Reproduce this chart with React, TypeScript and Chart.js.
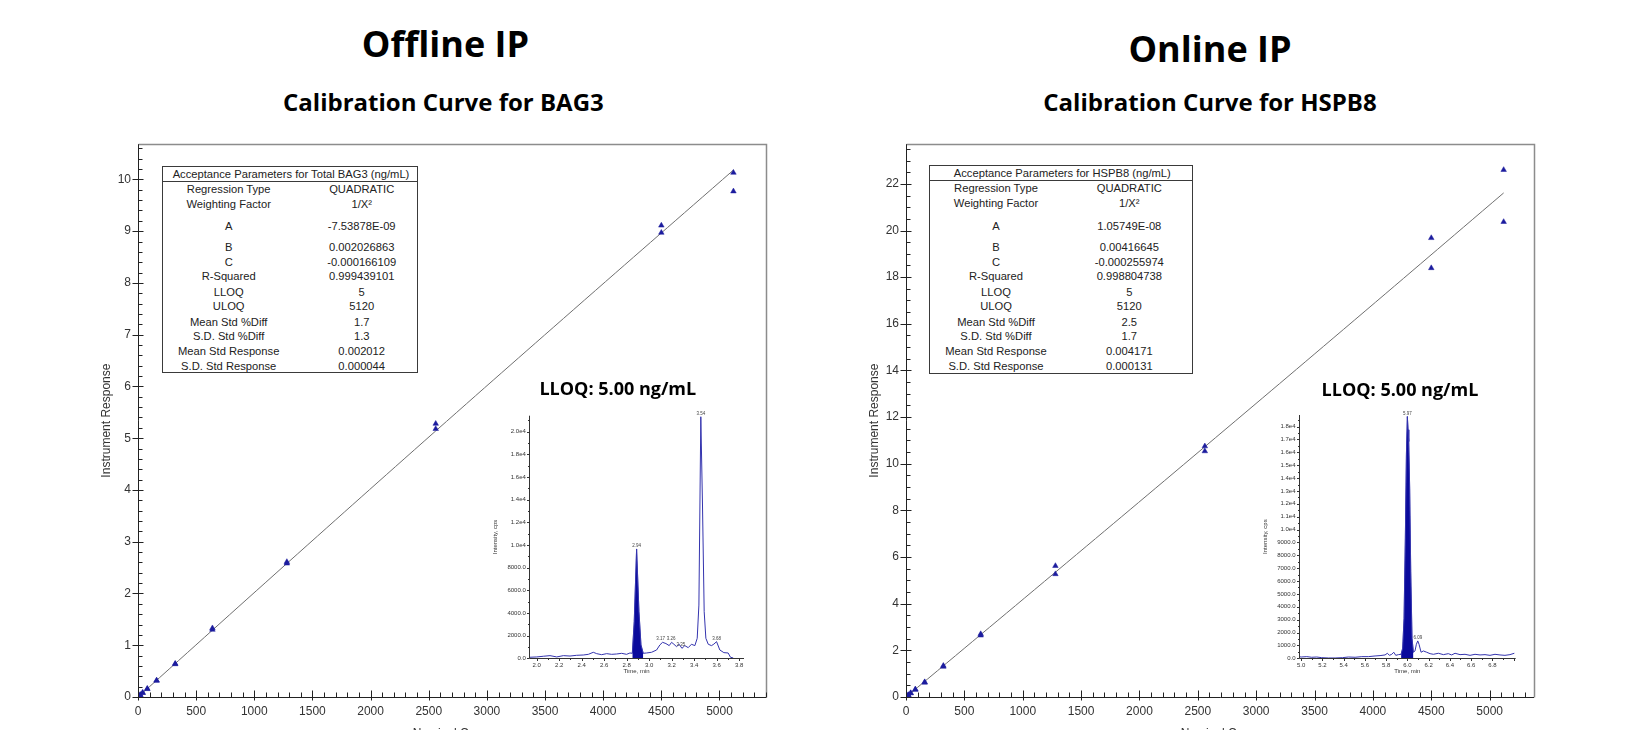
import React, { useEffect, useRef } from 'react';
import { Chart, registerables } from 'chart.js';

Chart.register(...registerables);

const FONT = "'Liberation Sans', Arial, Helvetica, sans-serif";
const TITLE_FONT = "'Open Sans', 'DejaVu Sans', sans-serif";

// ---------------- Calibration data ----------------
const nominalConc = [5, 5, 10, 10, 20, 20, 40, 40, 80, 80, 160, 160, 320, 320, 640, 640, 1280, 1280, 2560, 2560, 4500, 4500, 5120, 5120];
const bag3Response = [0.01, 0.011, 0.02, 0.021, 0.04, 0.042, 0.08, 0.083, 0.16, 0.155, 0.32, 0.315, 0.645, 0.635, 1.33, 1.3, 2.61, 2.58, 5.28, 5.18, 9.11, 8.97, 10.13, 9.77];
const hspb8Response = [0.02, 0.021, 0.04, 0.042, 0.085, 0.083, 0.17, 0.165, 0.33, 0.31, 0.64, 0.62, 1.34, 1.3, 2.7, 2.64, 5.62, 5.27, 10.75, 10.54, 19.68, 18.39, 22.6, 20.37];
const fitConc = [5, 1280, 2560, 3840, 5120];
const bag3FitResponse = [0.01, 2.58, 5.14, 7.67, 10.18];
const hspb8FitResponse = [0.02, 5.35, 10.73, 16.15, 21.61];

// tick values
const concTicks = [0, 500, 1000, 1500, 2000, 2500, 3000, 3500, 4000, 4500, 5000];
const bag3RespTicks = [0, 1, 2, 3, 4, 5, 6, 7, 8, 9, 10];
const hspb8RespTicks = [0, 2, 4, 6, 8, 10, 12, 14, 16, 18, 20, 22];
const bag3TimeTicks = [2.0, 2.2, 2.4, 2.6, 2.8, 3.0, 3.2, 3.4, 3.6, 3.8];
const bag3IntensityTicks = [0, 2000, 4000, 6000, 8000, 10000, 12000, 14000, 16000, 18000, 20000];
const hspb8TimeTicks = [5.0, 5.2, 5.4, 5.6, 5.8, 6.0, 6.2, 6.4, 6.6, 6.8];
const hspb8IntensityTicks = [0, 1000, 2000, 3000, 4000, 5000, 6000, 7000, 8000, 9000, 10000, 11000, 12000, 13000, 14000, 15000, 16000, 17000, 18000];

// ---------------- Acceptance parameter tables ----------------
const paramLabels = ['Regression Type', 'Weighting Factor', 'A', 'B', 'C', 'R-Squared', 'LLOQ', 'ULOQ', 'Mean Std %Diff', 'S.D. Std %Diff', 'Mean Std Response', 'S.D. Std Response'];
const bag3Params = ['QUADRATIC', '1/X\u00B2', '-7.53878E-09', '0.002026863', '-0.000166109', '0.999439101', '5', '5120', '1.7', '1.3', '0.002012', '0.000044'];
const hspb8Params = ['QUADRATIC', '1/X\u00B2', '1.05749E-08', '0.00416645', '-0.000255974', '0.998804738', '5', '5120', '2.5', '1.7', '0.004171', '0.000131'];

// ---------------- Chromatogram (LLOQ) data ----------------
const bag3ChromTime = [
  1.935, 2.0, 2.059, 2.118, 2.178, 2.237, 2.296, 2.355, 2.414, 2.459,
  2.503, 2.533, 2.577, 2.622, 2.666, 2.71, 2.755, 2.799, 2.829, 2.85,
  2.867, 2.888, 2.909, 2.927, 2.947, 2.977, 3.021, 3.066, 3.095, 3.119,
  3.149, 3.178, 3.199, 3.22, 3.243, 3.267, 3.291, 3.317, 3.347, 3.376,
  3.406, 3.427, 3.442, 3.459, 3.474, 3.489, 3.504, 3.525, 3.554, 3.575,
  3.599, 3.628, 3.664, 3.702, 3.723, 3.747,
];
const bag3ChromIntensity = [
  90, 120, 180, 235, 120, 235, 200, 265, 290, 350,
  530, 410, 320, 410, 350, 380, 440, 350, 470, 440,
  3235, 9650, 4120, 1180, 440, 470, 530, 735, 1180, 1410,
  1300, 1120, 1410, 1240, 1030, 1240, 880, 1120, 940, 1240,
  1120, 1765, 4700, 21320, 13530, 4120, 1765, 1240, 1120, 1250,
  1470, 735, 500, 470, 90, 30,
];
const bag3PeakWindow = [2.85, 2.947];
const bag3PeakLabelTime = [2.888, 3.101, 3.196, 3.282, 3.459, 3.599];
const bag3PeakLabelIntensity = [9650, 1420, 1480, 950, 21320, 1480];
const bag3PeakLabelText = ['2.94', '3.17', '3.26', '3.35', '3.54', '3.68'];

const hspb8ChromTime = [
  4.981, 5.0, 5.053, 5.1, 5.147, 5.194, 5.257, 5.32, 5.389, 5.445,
  5.508, 5.571, 5.633, 5.696, 5.743, 5.79, 5.812, 5.831, 5.853, 5.872,
  5.891, 5.916, 5.941, 5.956, 5.969, 5.981, 5.991, 6.0, 6.007, 6.013,
  6.022, 6.032, 6.044, 6.057, 6.072, 6.085, 6.098, 6.11, 6.129, 6.151,
  6.182, 6.214, 6.245, 6.292, 6.339, 6.386, 6.417, 6.449, 6.496, 6.543,
  6.59, 6.637, 6.684, 6.731, 6.778, 6.825, 6.872, 6.919, 6.966, 7.007,
];
const hspb8ChromIntensity = [
  130, 100, 130, 80, 100, 50, 25, 25, 50, 100,
  80, 130, 130, 180, 210, 260, 390, 230, 310, 470,
  230, 285, 310, 780, 3110, 9330, 15800, 18780, 17750, 16840,
  13210, 6740, 1550, 470, 570, 1090, 1350, 1090, 470, 570,
  470, 360, 310, 390, 285, 360, 260, 390, 285, 310,
  230, 310, 260, 285, 230, 310, 260, 230, 285, 390,
];
const hspb8PeakWindow = [5.941, 6.057];
const hspb8PeakLabelTime = [6.0, 6.098];
const hspb8PeakLabelIntensity = [18780, 1350];
const hspb8PeakLabelText = ['5.97', '6.09'];

// ---------------- plugin: axes, minor ticks, frame, peak labels ----------------
const axisDeco = {
  id: 'axisDeco',
  afterDatasetsDraw(chart: any, _args: any, o: any) {
    if (!o || !o.x) return;
    const { ctx, chartArea: a } = chart;
    const xs = chart.scales.x;
    const ys = chart.scales.y;
    const L = Math.round(a.left) + 0.5;
    const B = Math.round(a.bottom) + 0.5;
    ctx.save();
    if (o.frameColor) {
      ctx.strokeStyle = o.frameColor;
      ctx.lineWidth = o.frameWidth;
      ctx.beginPath();
      ctx.moveTo(L, Math.round(a.top) + 0.5);
      ctx.lineTo(Math.round(a.right) + 0.5, Math.round(a.top) + 0.5);
      ctx.lineTo(Math.round(a.right) + 0.5, B);
      ctx.stroke();
    }
    ctx.strokeStyle = o.axisColor;
    ctx.lineWidth = 1;
    ctx.beginPath();
    ctx.moveTo(L, a.top);
    ctx.lineTo(L, B);
    ctx.moveTo(L, B);
    ctx.lineTo(a.right, B);
    const each = (scale: any, minor: number, major: number, fn: (p: number, mj: boolean) => void) => {
      const i0 = Math.ceil(scale.min / minor - 1e-6);
      const i1 = Math.floor(scale.max / minor + 1e-6);
      for (let i = i0; i <= i1; i++) {
        const v = i * minor;
        const r = v / major;
        const mj = Math.abs(r - Math.round(r)) < 1e-6;
        fn(Math.round(scale.getPixelForValue(v)) + 0.5, mj);
      }
    };
    const X = o.x;
    const Y = o.y;
    each(xs, X.minor, X.major, (px, mj) => {
      ctx.moveTo(px, B - (mj ? X.majorIn : X.minorIn));
      ctx.lineTo(px, B + (mj ? X.majorOut : X.minorOut));
    });
    each(ys, Y.minor, Y.major, (py, mj) => {
      ctx.moveTo(L - (mj ? Y.majorOut : Y.minorOut), py);
      ctx.lineTo(L + (mj ? Y.majorIn : Y.minorIn), py);
    });
    ctx.stroke();
    if (o.labels) {
      ctx.fillStyle = '#444';
      ctx.font = `${o.labelSize}px ${FONT}`;
      ctx.textAlign = 'center';
      ctx.textBaseline = 'bottom';
      const { t, v, text } = o.labels;
      for (let i = 0; i < t.length; i++) {
        ctx.fillText(text[i], xs.getPixelForValue(t[i]), ys.getPixelForValue(v[i]) - 1);
      }
    }
    ctx.restore();
  },
};

type Area = { l: number; t: number; r: number; b: number };

const setTicks = (values: number[]) => (s: any) => {
  s.ticks = values.map((v) => ({ value: v }));
};

function CalChart(p: {
  left: number; top: number; width: number; height: number; area: Area;
  conc: number[]; resp: number[]; fitX: number[]; fitY: number[];
  xMax: number; yMax: number; yTicks: number[]; yStep: number; yMinor: number;
  yTitleCenter: number; xTitleCenter: number;
}) {
  const ref = useRef<HTMLCanvasElement>(null);
  useEffect(() => {
    const canvas = ref.current as HTMLCanvasElement;
    const tickFont = { family: FONT, size: 12 };
    const chart = new Chart(canvas, {
      type: 'scatter',
      data: {
        datasets: [
          {
            type: 'scatter',
            data: p.conc.map((c, i) => ({ x: c, y: p.resp[i] })),
            pointStyle: 'triangle',
            pointRadius: 3.2,
            backgroundColor: '#1c1c9e',
            borderColor: '#1c1c9e',
            borderWidth: 0.5,
          },
          {
            type: 'line',
            data: p.fitX.map((c, i) => ({ x: c, y: p.fitY[i] })),
            borderColor: '#6f6f6f',
            borderWidth: 1,
            pointRadius: 0,
            fill: false,
            tension: 0.4,
          },
        ] as any,
      },
      options: {
        responsive: false,
        animation: false,
        layout: { padding: { left: 0, top: p.area.t, right: p.width - p.area.r, bottom: 0 } },
        plugins: {
          legend: { display: false },
          tooltip: { enabled: false },
          axisDeco: {
            frameColor: '#8c8c8c', frameWidth: 1.5, axisColor: '#222',
            x: { major: 500, minor: 100, majorIn: 7, majorOut: 3, minorIn: 5, minorOut: 0 },
            y: { major: p.yStep, minor: p.yMinor, majorIn: 5, majorOut: 6, minorIn: 4, minorOut: 0 },
          },
        } as any,
        scales: {
          x: {
            type: 'linear', min: 0, max: p.xMax,
            afterBuildTicks: setTicks(concTicks),
            afterFit: (s: any) => { s.height = p.height - p.area.b; },
            border: { display: false },
            grid: { display: false, drawTicks: false },
            ticks: { padding: 7, color: '#333', font: tickFont, maxRotation: 0, autoSkip: false, callback: (v: any) => String(Math.round(Number(v))) },
            title: { display: true, text: 'Nominal Conc.', color: '#333', font: tickFont, padding: { top: 0, bottom: p.height - p.xTitleCenter - 7.2 } },
          },
          y: {
            type: 'linear', min: 0, max: p.yMax,
            afterBuildTicks: setTicks(p.yTicks),
            afterFit: (s: any) => { s.width = p.area.l; },
            border: { display: false },
            grid: { display: false, drawTicks: false },
            ticks: { padding: 7, color: '#333', font: tickFont, autoSkip: false, callback: (v: any) => String(Math.round(Number(v))) },
            title: { display: true, text: 'Instrument Response', color: '#333', font: tickFont, padding: { top: p.yTitleCenter - 7.2, bottom: 0 } },
          },
        } as any,
      },
      plugins: [axisDeco as any],
    });
    return () => chart.destroy();
  }, []);
  return (
    <canvas ref={ref} width={p.width} height={p.height}
      style={{ position: 'absolute', left: p.left, top: p.top, width: p.width, height: p.height }} />
  );
}

const fmtIntensity = (v: number) => (v >= 10000 ? (v / 10000).toFixed(1) + 'e4' : v.toFixed(1));

function Chromatogram(p: {
  left: number; top: number; width: number; height: number; area: Area;
  time: number[]; intensity: number[]; window: number[];
  xMin: number; xMax: number; xTicks: number[]; yMax: number; yTicks: number[]; yStep: number; yMinor: number;
  labelT: number[]; labelV: number[]; labelText: string[];
  yTitleCenter: number; xTitleCenter: number;
}) {
  const ref = useRef<HTMLCanvasElement>(null);
  useEffect(() => {
    const canvas = ref.current as HTMLCanvasElement;
    const small = { family: FONT, size: 6 };
    const trace = p.time.map((t, i) => ({ x: t, y: p.intensity[i] }));
    const peak = trace.filter((d) => d.x >= p.window[0] - 1e-9 && d.x <= p.window[1] + 1e-9);
    const chart = new Chart(canvas, {
      type: 'line',
      data: {
        datasets: [
          { data: trace, borderColor: '#3434ae', borderWidth: 1, pointRadius: 0, fill: false, tension: 0 },
          { data: peak, borderColor: '#0a0a9c', borderWidth: 0.5, backgroundColor: '#0a0a9c', pointRadius: 0, fill: 'origin', tension: 0 },
        ] as any,
      },
      options: {
        responsive: false,
        animation: false,
        layout: { padding: { left: 0, top: p.area.t, right: p.width - p.area.r, bottom: 0 } },
        plugins: {
          legend: { display: false },
          tooltip: { enabled: false },
          axisDeco: {
            axisColor: '#333',
            x: { major: 0.2, minor: 0.1, majorIn: 0, majorOut: 2.5, minorIn: 0, minorOut: 1.5 },
            y: { major: p.yStep, minor: p.yMinor, majorIn: 0, majorOut: 2.5, minorIn: 0, minorOut: 1.5 },
            labels: { t: p.labelT, v: p.labelV, text: p.labelText },
            labelSize: 4.5,
          },
        } as any,
        scales: {
          x: {
            type: 'linear', min: p.xMin, max: p.xMax,
            afterBuildTicks: setTicks(p.xTicks),
            afterFit: (s: any) => { s.height = p.height - p.area.b; },
            border: { display: false },
            grid: { display: false, drawTicks: false },
            ticks: { padding: 3, color: '#333', font: small, maxRotation: 0, autoSkip: false, callback: (v: any) => Number(v).toFixed(1) },
            title: { display: true, text: 'Time, min', color: '#333', font: small, padding: { top: 0, bottom: p.height - p.xTitleCenter - 3.6 } },
          },
          y: {
            type: 'linear', min: 0, max: p.yMax,
            afterBuildTicks: setTicks(p.yTicks),
            afterFit: (s: any) => { s.width = p.area.l; },
            border: { display: false },
            grid: { display: false, drawTicks: false },
            ticks: { padding: 3.5, color: '#333', font: small, autoSkip: false, callback: (v: any) => fmtIntensity(Number(v)) },
            title: { display: true, text: 'Intensity, cps', color: '#333', font: small, padding: { top: p.yTitleCenter - 3.6, bottom: 0 } },
          },
        } as any,
      },
      plugins: [axisDeco as any],
    });
    return () => chart.destroy();
  }, []);
  return (
    <canvas ref={ref} width={p.width} height={p.height}
      style={{ position: 'absolute', left: p.left, top: p.top, width: p.width, height: p.height }} />
  );
}

const ROW_Y = [22.6, 37.6, 60.3, 81, 96, 110.3, 126, 140.3, 156, 170.3, 185.3, 200.3];

function ParamTable(p: { left: number; top: number; width: number; height: number; header: string; values: string[]; colL: number; colR: number }) {
  const cell = (x: number, y: number, text: string, key: string) => (
    <div key={key} style={{ position: 'absolute', left: x, top: y, transform: 'translate(-50%, -50%)', whiteSpace: 'nowrap', font: `11.2px ${FONT}`, lineHeight: '13px', color: '#222' }}>{text}</div>
  );
  return (
    <div style={{ position: 'absolute', left: p.left, top: p.top, width: p.width, height: p.height, border: '1.5px solid #3a3a3a', boxSizing: 'border-box', background: '#fff' }}>
      <div style={{ position: 'absolute', left: 0, right: 0, top: 14, borderTop: '1px solid #3a3a3a' }} />
      {cell(p.width / 2, 7, p.header, 'h')}
      {paramLabels.map((l, i) => cell(p.colL, ROW_Y[i] - 0.5, l, 'l' + i))}
      {p.values.map((v, i) => cell(p.colR, ROW_Y[i] - 0.5, v, 'v' + i))}
    </div>
  );
}

function Label(p: { x: number; y: number; size: number; text: string }) {
  return (
    <div style={{ position: 'absolute', left: p.x, top: p.y, transform: 'translate(-50%, -50%)', whiteSpace: 'nowrap', fontFamily: TITLE_FONT, fontWeight: 700, fontSize: p.size, lineHeight: 1, color: '#000' }}>{p.text}</div>
  );
}

export default function App() {
  return (
    <div style={{ position: 'absolute', left: 0, top: 0, width: 1636, height: 730, overflow: 'hidden', background: '#fff' }}>
      <Label x={445.5} y={44} size={36} text="Offline IP" />
      <Label x={1210} y={49} size={36} text="Online IP" />
      <Label x={443.4} y={102.3} size={24} text="Calibration Curve for BAG3" />
      <Label x={1210} y={102.3} size={24} text="Calibration Curve for HSPB8" />

      <CalChart left={0} top={130} width={780} height={615} area={{ l: 138, t: 10, r: 766, b: 567 }}
        conc={nominalConc} resp={bag3Response} fitX={fitConc} fitY={bag3FitResponse}
        xMax={5400} yMax={10.68} yTicks={bag3RespTicks} yStep={1} yMinor={0.2} yTitleCenter={106.7} xTitleCenter={604} />
      <CalChart left={780} top={130} width={856} height={615} area={{ l: 126, t: 12, r: 754, b: 567 }}
        conc={nominalConc} resp={hspb8Response} fitX={fitConc} fitY={hspb8FitResponse}
        xMax={5380} yMax={23.7} yTicks={hspb8RespTicks} yStep={2} yMinor={0.5} yTitleCenter={95} xTitleCenter={604} />

      <ParamTable left={161.7} top={165.7} width={256.6} height={207.6} header="Acceptance Parameters for Total BAG3 (ng/mL)" values={bag3Params} colL={66} colR={199} />
      <ParamTable left={929.3} top={165} width={264} height={209} header="Acceptance Parameters for HSPB8 (ng/mL)" values={hspb8Params} colL={65.7} colR={199} />

      <Chromatogram left={470} top={405} width={290} height={280} area={{ l: 59.3, t: 10.7, r: 274, b: 253.3 }}
        time={bag3ChromTime} intensity={bag3ChromIntensity} window={bag3PeakWindow}
        xMin={1.934} xMax={3.843} xTicks={bag3TimeTicks} yMax={21412} yTicks={bag3IntensityTicks} yStep={2000} yMinor={1000}
        labelT={bag3PeakLabelTime} labelV={bag3PeakLabelIntensity} labelText={bag3PeakLabelText}
        yTitleCenter={25} xTitleCenter={266.7} />
      <Chromatogram left={1245} top={405} width={290} height={280} area={{ l: 54, t: 10, r: 270.7, b: 253.3 }}
        time={hspb8ChromTime} intensity={hspb8ChromIntensity} window={hspb8PeakWindow}
        xMin={4.98} xMax={7.02} xTicks={hspb8TimeTicks} yMax={18900} yTicks={hspb8IntensityTicks} yStep={1000} yMinor={500}
        labelT={hspb8PeakLabelTime} labelV={hspb8PeakLabelIntensity} labelText={hspb8PeakLabelText}
        yTitleCenter={20} xTitleCenter={266.7} />

      <Label x={617.8} y={388.3} size={18} text="LLOQ: 5.00 ng/mL" />
      <Label x={1400} y={389} size={18} text="LLOQ: 5.00 ng/mL" />
    </div>
  );
}
